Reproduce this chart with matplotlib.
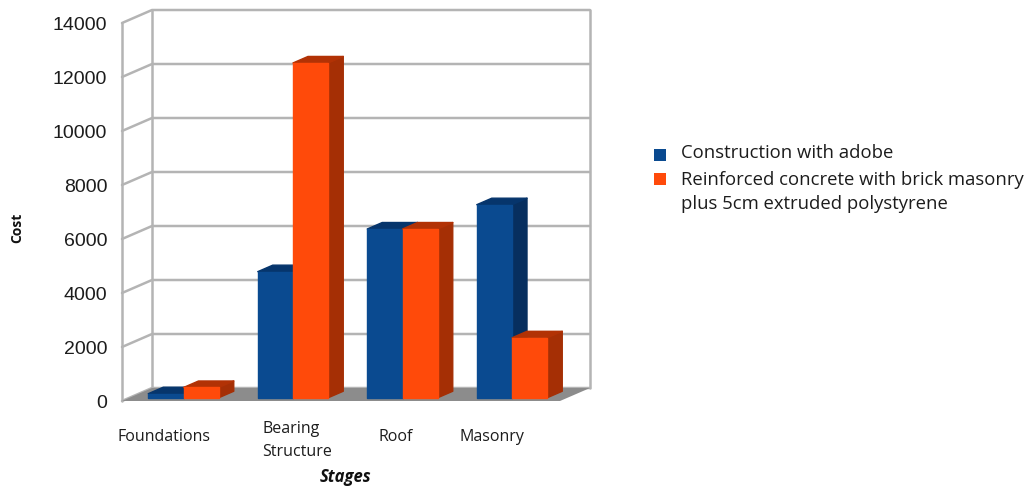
import matplotlib
matplotlib.use("Agg")
import matplotlib.pyplot as plt
from matplotlib.legend_handler import HandlerPatch
from matplotlib.patches import Polygon, Patch, Rectangle

# Cost of each construction stage for the two building systems
stages = ["Foundations", "Bearing\nStructure", "Roof", "Masonry"]
stage_label_pos = [-0.116, 1.103, 2.002, 2.879]
adobe_cost = [150, 4670, 6250, 7150]
concrete_cost = [380, 12400, 6250, 2220]
y_ticks = [0, 2000, 4000, 6000, 8000, 10000, 12000, 14000]
series_names = ["Construction with adobe",
                "Reinforced concrete with brick masonry\nplus 5cm extruded polystyrene"]

BLUE = ("#0a4a90", "#072f5f", "#06356c")
ORANGE = ("#ff4a0a", "#a52f05", "#b23205")
GRID = "#b4b4b4"
FLOOR = "#8c8c8c"
TEXT = "#1c1c1c"

W, H = 1027, 487
fig = plt.figure(figsize=(W / 100, H / 100), dpi=100)
ax = fig.add_axes([122 / W, 1 - 401 / H, 438 / W, 378 / H])
ax.set_xlim(-0.5, 3.5)
ax.set_ylim(0, 14000)
for s in ax.spines.values():
    s.set_visible(False)
ax.patch.set_alpha(0)

# Oblique depth of the box, in data units
DX, DY = 30 / 109.5, 13 / 0.027
X0, X1 = -0.5, 3.5
BAR_W = 0.322


def box(x_left, x_right, top, color_set, z):
    """One 3-D looking bar occupying the middle half of the box depth."""
    fx, fy = 0.225 * DX, 0.25 * DY
    bx, by = 0.5 * DX, 0.5 * DY
    x0, x1 = x_left + fx, x_right + fx
    y0, y1 = fy, top + fy
    faces = [
        ([(x1, y0), (x1 + bx, y0 + by), (x1 + bx, y1 + by), (x1, y1)], color_set[1]),
        ([(x0, y1), (x1, y1), (x1 + bx, y1 + by), (x0 + bx, y1 + by)], color_set[2]),
        ([(x0, y0), (x1, y0), (x1, y1), (x0, y1)], color_set[0]),
    ]
    for pts, c in faces:
        ax.add_patch(Polygon(pts, closed=True, facecolor=c, edgecolor=c, lw=1.0,
                             joinstyle="round", clip_on=False, zorder=z))


# Walls and grid lines
grid_kw = dict(color=GRID, lw=1.8, clip_on=False, zorder=1, solid_capstyle="round")
for v in y_ticks:
    ax.plot([X0, X0 + DX, X1 + DX], [v, v + DY, v + DY], **grid_kw)
ax.plot([X0, X0], [0, 14000], **grid_kw)
ax.plot([X0 + DX, X0 + DX], [DY, 14000 + DY], **grid_kw)
ax.plot([X1 + DX, X1 + DX], [DY, 14000 + DY], **grid_kw)

# Floor
ax.add_patch(Polygon([(X0, 0), (X0 + DX, DY), (X1 + DX, DY), (X1, 0)], closed=True,
                     facecolor=FLOOR, edgecolor="none", clip_on=False, zorder=2))

# Bars, drawn in category order so the front faces overlap correctly
for i, (a, c) in enumerate(zip(adobe_cost, concrete_cost)):
    box(i - BAR_W, i, a, BLUE, 3 + i)
    box(i, i + BAR_W, c, ORANGE, 3 + i + 0.5)

# Axes text
ax.set_yticks(y_ticks)
ax.set_yticklabels([str(v) for v in y_ticks], fontfamily="Liberation Sans",
                   fontsize=14, color=TEXT)
ax.tick_params(axis="y", length=0, pad=10.7)
ax.set_xticks(stage_label_pos)
ax.set_xticklabels(stages, fontfamily="Open Sans", fontsize=11.5, color=TEXT,
                   va="center", ma="left", linespacing=1.55)
ax.tick_params(axis="x", length=0, pad=26)
# The two-line label sits a little lower than the single-line ones
ax.get_xticklabels()[1].set_y(-3.5 / 378)

fig.text(17 / W, 1 - 228 / H, "Cost", rotation=90, ha="center", va="center",
         fontfamily="Open Sans", fontweight="bold", fontsize=10, color="#111111")
fig.text(345.5 / W, 1 - 477 / H, "Stages", ha="center", va="center",
         fontfamily="Open Sans", fontweight="bold", fontstyle="italic",
         fontsize=12, color="#111111")


def first_line_square(legend, orig_handle, xdescent, ydescent, width, height, fontsize):
    """Legend square lined up with the first line of its label."""
    lift = 9.8 if orig_handle.get_label() == "two-line" else -2.5
    return Rectangle((-xdescent, -ydescent + lift), width, height)


# Legend
handles = [Patch(facecolor=BLUE[0], edgecolor="none"),
           Patch(facecolor=ORANGE[0], edgecolor="none", label="two-line")]
legend = fig.legend(handles, series_names, loc="upper left",
                    bbox_to_anchor=(650 / W, 1 - 140 / H), frameon=False,
                    prop={"family": "Open Sans", "size": 13.3},
                    handlelength=0.65, handleheight=0.65, handletextpad=0.85,
                    labelspacing=0.5, borderpad=0.2, borderaxespad=0, labelcolor=TEXT,
                    handler_map={Patch: HandlerPatch(patch_func=first_line_square)})
legend.get_texts()[1].set_linespacing(1.45)

fig.savefig("out.png", dpi=100, facecolor="white")
